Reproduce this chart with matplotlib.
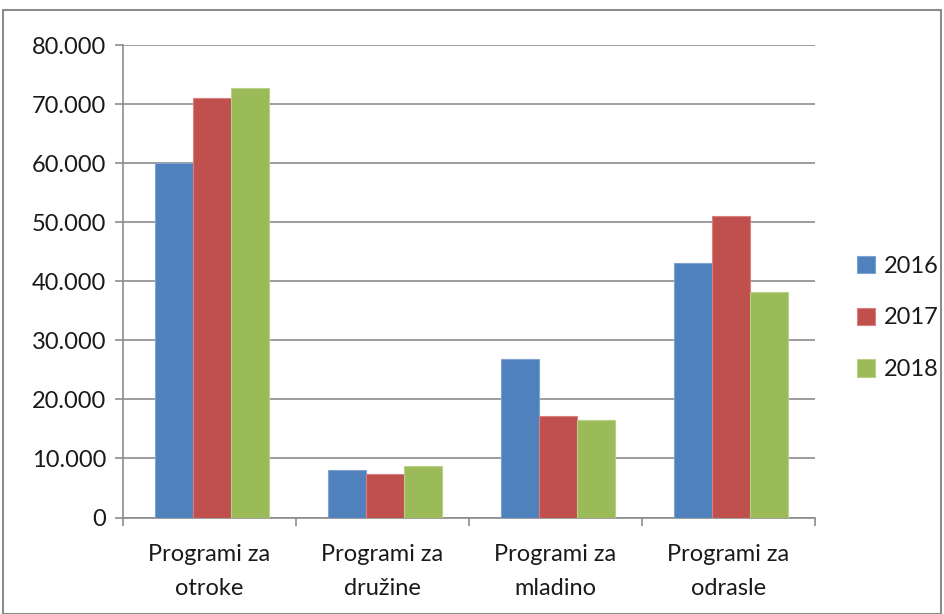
import matplotlib
matplotlib.use("Agg")
import matplotlib.pyplot as plt
from matplotlib.patches import Rectangle
from matplotlib.ticker import FuncFormatter, FixedLocator
import numpy as np

categories = ["Programi za\notroke", "Programi za\ndružine", "Programi za\nmladino", "Programi za\nodrasle"]
series_names = ["2016", "2017", "2018"]
values_2016 = [60000, 8100, 26800, 43200]
values_2017 = [71100, 7400, 17200, 51000]
values_2018 = [72700, 8800, 16600, 38200]
y_ticks = [0, 10000, 20000, 30000, 40000, 50000, 60000, 70000, 80000]

colors = ["#4F81BD", "#C0504D", "#9BBB59"]
edges = ["#7FA3D0", "#D8807D", "#B8D08A"]

plt.rcParams['font.family'] = ['Lato', 'DejaVu Sans']

fig = plt.figure(figsize=(9.45, 6.14), dpi=100)
ax = fig.add_axes([123/945, 1-517.5/614, (815-123)/945, (517.5-45.3)/614])

x = np.arange(len(categories))
w = 0.22
for i, (vals, c, ec) in enumerate(zip([values_2016, values_2017, values_2018], colors, edges)):
    ax.bar(x + (i - 1) * w + 0.013, vals, width=w, color=c, edgecolor=ec, linewidth=0.8,
           label=series_names[i], zorder=3)

ax.set_xlim(-0.5, 3.5)
ax.set_ylim(0, 80000)
ax.yaxis.set_major_locator(FixedLocator(y_ticks))
ax.yaxis.set_major_formatter(FuncFormatter(lambda v, p: "0" if v == 0 else f"{int(v):,}".replace(",", ".")))
ax.grid(axis='y', color='#8C8C8C', linewidth=1.2, zorder=0)
ax.set_axisbelow(True)

ax.set_xticks(np.arange(-0.5, 4.0, 1.0))
ax.set_xticklabels([])
ax.set_xticks(x, minor=True)
ax.set_xticklabels(categories, minor=True, fontsize=17, color='#1a1a1a', linespacing=1.75)
ax.tick_params(axis='x', which='minor', length=0, pad=19)
ax.tick_params(axis='x', which='major', length=6, color='#8C8C8C', width=1.2, direction='out')
ax.tick_params(axis='y', length=6, color='#8C8C8C', width=1.2, labelsize=17, labelcolor='#1a1a1a', pad=6)

for s in ['top', 'right']:
    ax.spines[s].set_visible(False)
for s in ['left', 'bottom']:
    ax.spines[s].set_color('#8C8C8C')
    ax.spines[s].set_linewidth(1.2)

leg = fig.legend(loc='center left', bbox_to_anchor=(848/945, 1-318/614), frameon=False,
                 fontsize=17, handlelength=0.75, handleheight=0.75, labelspacing=1.3,
                 handletextpad=0.35, borderaxespad=0)
for t in leg.get_texts():
    t.set_color('#1a1a1a')

fig.patches.append(Rectangle((3/945, 0.0), 938/945, 1 - 10/614, transform=fig.transFigure,
                             fill=False, edgecolor='#8C8C8C', linewidth=1.5))

fig.savefig("out.png", dpi=100)
